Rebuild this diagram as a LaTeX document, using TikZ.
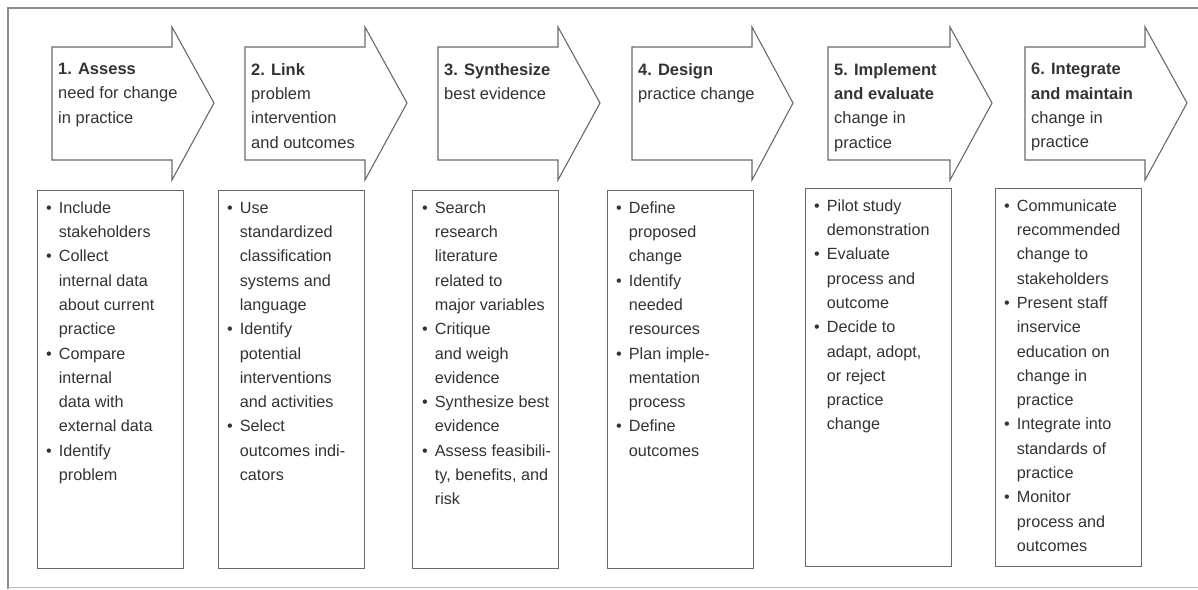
\documentclass[tikz,border=0pt]{standalone}
\usepackage{fontspec}
\setmainfont{Liberation Sans}
\definecolor{inkgray}{HTML}{333333}
\definecolor{linegray}{HTML}{6A6A6A}
\definecolor{framegray}{HTML}{8C8C8C}
\begin{document}
\begin{tikzpicture}[x=1pt, y=-1pt,
    arrowshape/.style={draw=linegray, line width=1.1pt, fill=white},
    headtext/.style={anchor=north west, inner sep=0pt, align=left, text=inkgray,
        font=\fontsize{16.5}{24.4}\selectfont},
    stepbox/.style={draw=linegray, line width=1.3pt, anchor=north west, inner sep=0pt,
        minimum width=146pt, minimum height=378pt},
    itemtext/.style={anchor=north west, inner sep=0pt, text=inkgray,
        font=\fontsize{16.2}{24.3}\selectfont}]
    \useasboundingbox (0,0) rectangle (1198,589);

    % outer frame
    \draw[framegray, line width=1.5pt] (8,589) -- (8,8) -- (1205,8);
    \draw[framegray!60, line width=1pt] (8,587.5) -- (1205,587.5);

    % 1. Assess
    \draw[arrowshape] (52,47) -- (172,47) -- (172,27) -- (214,103) -- (172,180) -- (172,160) -- (52,160) -- cycle;
    \node[headtext] (h1) at (58,63) {\textbf{1. Assess}\\need for change\\in practice};
    \node[stepbox] (b1) at (37,190) {};
    \node[itemtext] (t1) at (46,196) {\begin{tabular}{@{}l@{\hspace{7pt}}l@{}}
        \textbullet & Include\\ & stakeholders\\
        \textbullet & Collect\\ & internal data\\ & about current\\ & practice\\
        \textbullet & Compare\\ & internal\\ & data with\\ & external data\\
        \textbullet & Identify\\ & problem
    \end{tabular}};

    % 2. Link
    \draw[arrowshape] (245,47) -- (365,47) -- (365,27) -- (407,103) -- (365,180) -- (365,160) -- (245,160) -- cycle;
    \node[headtext] (h2) at (251,63) {\textbf{2. Link}\\problem\\intervention\\and outcomes};
    \node[stepbox] (b2) at (218,190) {};
    \node[itemtext] (t2) at (227,196) {\begin{tabular}{@{}l@{\hspace{7pt}}l@{}}
        \textbullet & Use\\ & standardized\\ & classification\\ & systems and\\ & language\\
        \textbullet & Identify\\ & potential\\ & interventions\\ & and activities\\
        \textbullet & Select\\ & outcomes indi-\\ & cators
    \end{tabular}};

    % 3. Synthesize
    \draw[arrowshape] (438,47) -- (558,47) -- (558,27) -- (600,103) -- (558,180) -- (558,160) -- (438,160) -- cycle;
    \node[headtext] (h3) at (444,63) {\textbf{3. Synthesize}\\best evidence};
    \node[stepbox] (b3) at (412,190) {};
    \node[itemtext] (t3) at (422,196) {\begin{tabular}{@{}l@{\hspace{7pt}}l@{}}
        \textbullet & Search\\ & research\\ & literature\\ & related to\\ & major variables\\
        \textbullet & Critique\\ & and weigh\\ & evidence\\
        \textbullet & Synthesize best\\ & evidence\\
        \textbullet & Assess feasibili-\\ & ty, benefits, and\\ & risk
    \end{tabular}};

    % 4. Design
    \draw[arrowshape] (632,47) -- (752,47) -- (752,27) -- (793,103) -- (752,180) -- (752,160) -- (632,160) -- cycle;
    \node[headtext] (h4) at (638,63) {\textbf{4. Design}\\practice change};
    \node[stepbox] (b4) at (607,190) {};
    \node[itemtext] (t4) at (616,196) {\begin{tabular}{@{}l@{\hspace{7pt}}l@{}}
        \textbullet & Define\\ & proposed\\ & change\\
        \textbullet & Identify\\ & needed\\ & resources\\
        \textbullet & Plan imple-\\ & mentation\\ & process\\
        \textbullet & Define\\ & outcomes
    \end{tabular}};

    % 5. Implement and evaluate
    \draw[arrowshape] (828,47) -- (950,47) -- (950,27) -- (992,103) -- (950,180) -- (950,160) -- (828,160) -- cycle;
    \node[headtext] (h5) at (834,63) {\textbf{5. Implement}\\\textbf{and evaluate}\\change in\\practice};
    \node[stepbox] (b5) at (805,188) {};
    \node[itemtext] (t5) at (814,194) {\begin{tabular}{@{}l@{\hspace{7pt}}l@{}}
        \textbullet & Pilot study\\ & demonstration\\
        \textbullet & Evaluate\\ & process and\\ & outcome\\
        \textbullet & Decide to\\ & adapt, adopt,\\ & or reject\\ & practice\\ & change
    \end{tabular}};

    % 6. Integrate and maintain
    \draw[arrowshape] (1025,47) -- (1145,47) -- (1145,27) -- (1187,103) -- (1145,180) -- (1145,160) -- (1025,160) -- cycle;
    \node[headtext] (h6) at (1031,63) {\textbf{6. Integrate}\\\textbf{and maintain}\\change in\\practice};
    \node[stepbox] (b6) at (995,188) {};
    \node[itemtext] (t6) at (1004,194) {\begin{tabular}{@{}l@{\hspace{7pt}}l@{}}
        \textbullet & Communicate\\ & recommended\\ & change to\\ & stakeholders\\
        \textbullet & Present staff\\ & inservice\\ & education on\\ & change in\\ & practice\\
        \textbullet & Integrate into\\ & standards of\\ & practice\\
        \textbullet & Monitor\\ & process and\\ & outcomes
    \end{tabular}};
\end{tikzpicture}
\end{document}
